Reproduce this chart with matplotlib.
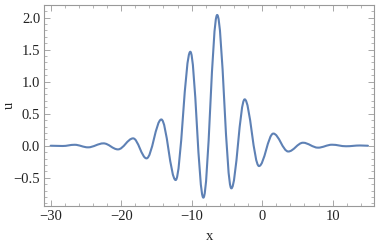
import numpy as np
import matplotlib
matplotlib.use("Agg")
import matplotlib.pyplot as plt
from matplotlib.path import Path
from matplotlib.patches import PathPatch
from matplotlib.ticker import MultipleLocator

# Extrema of the curve (x, u)
x_ext = [-30.0, -28.3, -26.6, -24.7, -22.5, -20.45, -18.3, -16.4, -14.3, -12.27,
         -10.19, -8.34, -6.38, -4.37, -2.48, -0.45, 1.58, 3.7, 5.79, 7.92,
         9.9, 11.9, 13.9, 15.0]
u_ext = [0.0, -0.004, 0.015, -0.025, 0.037, -0.057, 0.115, -0.197, 0.41, -0.535,
         1.466, -0.81, 2.04, -0.665, 0.724, -0.317, 0.19, -0.09, 0.047, -0.03,
         0.016, -0.008, 0.004, 0.0]

x_ticks = [-30, -20, -10, 0, 10]
u_ticks = [-0.5, 0.0, 0.5, 1.0, 1.5, 2.0]

fig = plt.figure(figsize=(3.78, 2.44), dpi=100)
ax = fig.add_axes([44.3 / 378, 1 - 206 / 244, 330 / 378, 201.3 / 244])

# smooth curve through extrema (horizontal tangents at each extremum)
a = 0.36
verts = [(x_ext[0], u_ext[0])]
codes = [Path.MOVETO]
for i in range(1, len(x_ext)):
    x0, y0 = x_ext[i - 1], u_ext[i - 1]
    x1, y1 = x_ext[i], u_ext[i]
    dx = x1 - x0
    verts += [(x0 + a * dx, y0), (x1 - a * dx, y1), (x1, y1)]
    codes += [Path.CURVE4] * 3
patch = PathPatch(Path(verts, codes), facecolor="none", edgecolor="#5E81B5",
                  lw=1.5, capstyle="round", joinstyle="round")
ax.add_patch(patch)

ax.set_xlim(-30.9, 15.9)
ax.set_ylim(-0.94, 2.2)
ax.set_xticks(x_ticks)
ax.set_xticklabels(["\u221230", "\u221220", "\u221210", "0", "10"])
ax.set_yticks(u_ticks)
ax.set_yticklabels(["\u22120.5", "0.0", "0.5", "1.0", "1.5", "2.0"])
ax.xaxis.set_minor_locator(MultipleLocator(2))
ax.yaxis.set_minor_locator(MultipleLocator(0.1))

fam = ["Liberation Serif", "DejaVu Serif"]
ax.tick_params(which="both", direction="in", top=True, right=True,
               colors="#999999", labelcolor="#222222", labelsize=10.5)
ax.tick_params(which="major", length=4, width=0.6, pad=3)
ax.tick_params(which="minor", length=2, width=0.5)
for lab in ax.get_xticklabels() + ax.get_yticklabels():
    lab.set_fontfamily(fam)
for sp in ax.spines.values():
    sp.set_color("#999999")
    sp.set_linewidth(0.8)

ax.set_xlabel("x", fontfamily=fam, fontsize=10.5, color="#222222")
ax.xaxis.set_label_coords(0.5, -(237 - 206) / 201.3)
ax.xaxis.label.set_va("center")
ax.set_ylabel("u", fontfamily=fam, fontsize=10.5, color="#222222")
ax.yaxis.set_label_coords(-(44.3 - 9) / 330, 0.5)
ax.yaxis.label.set_va("center")

fig.savefig("out.png", dpi=100)
